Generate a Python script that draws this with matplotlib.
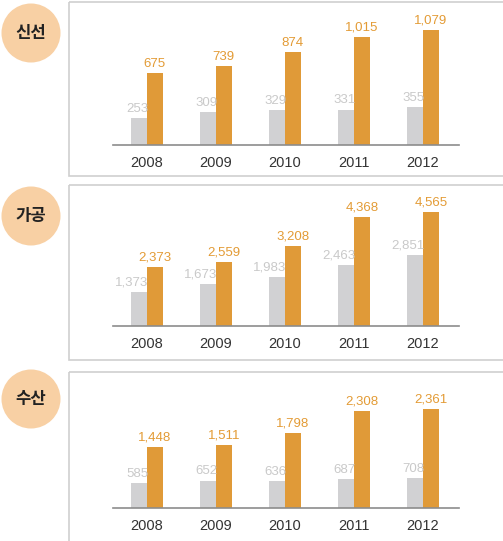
import numpy as np
import matplotlib
matplotlib.use('Agg')
import matplotlib.pyplot as plt
from matplotlib.patches import Rectangle, Circle

plt.rcParams['font.family'] = ['Liberation Sans', 'Noto Sans CJK KR', 'DejaVu Sans']

years = ['2008', '2009', '2010', '2011', '2012']
titles = ['신선', '가공', '수산']

fresh_gray = [253, 309, 329, 331, 355]
fresh_orange = [675, 739, 874, 1015, 1079]
proc_gray = [1373, 1673, 1983, 2463, 2851]
proc_orange = [2373, 2559, 3208, 4368, 4565]
sea_gray = [585, 652, 636, 687, 708]
sea_orange = [1448, 1511, 1798, 2308, 2361]

gray_vals = [fresh_gray, proc_gray, sea_gray]
orange_vals = [fresh_orange, proc_orange, sea_orange]
ytops = [1350, 5650, 3240]

W, H = 503, 541
fig = plt.figure(figsize=(W / 100, H / 100), dpi=100)

# background layer in pixel coords
bg = fig.add_axes([0, 0, 1, 1])
bg.set_xlim(0, W)
bg.set_ylim(H, 0)
bg.axis('off')

boxes = [(1.5, 176), (185, 360), (372, 550)]      # top, bottom of the framed boxes
circ_y = [33, 216, 399]
baselines = [145, 326, 508]

orange = '#E09A38'
gray = '#D1D1D3'
orange_txt = '#E39B35'
gray_txt = '#C9C9C9'

for k in range(3):
    top, bot = boxes[k]
    bg.add_patch(Rectangle((69, top), 500, bot - top, fill=False, ec='#CFCFCF', lw=1.2))
    bg.add_patch(Circle((31, circ_y[k]), 29.5, fc='#F8D0A4', ec='none'))
    bg.text(31, circ_y[k], titles[k], ha='center', va='center', fontsize=12,
            fontweight='bold', color='#222222', family=['Noto Sans CJK KR', 'DejaVu Sans'])

for k in range(3):
    base = baselines[k]
    top = boxes[k][0]
    ax = fig.add_axes([113 / W, (H - base) / H, (459 - 113) / W, (base - top) / H])
    ax.patch.set_alpha(0)
    x = np.arange(len(years))
    w = 0.225
    ax.bar(x - w, gray_vals[k], w, align='edge', color=gray)
    ax.bar(x, orange_vals[k], w, align='edge', color=orange)
    ax.set_xlim(-34 / 69, 4 + 36 / 69)
    ax.set_ylim(0, ytops[k])
    for s in ['top', 'left', 'right']:
        ax.spines[s].set_visible(False)
    ax.spines['bottom'].set_color('#8C8C8C')
    ax.spines['bottom'].set_linewidth(1.2)
    ax.set_yticks([])
    ax.set_xticks(x)
    ax.set_xticklabels(years, fontsize=10.5, color='#333333')
    ax.tick_params(axis='x', length=0, pad=8)
    for i in range(len(years)):
        ax.annotate(f'{gray_vals[k][i]:,}', (x[i] + 0.02, gray_vals[k][i]), xytext=(0, 2.5),
                    textcoords='offset points', ha='right', va='bottom',
                    fontsize=9.5, color=gray_txt)
        ax.annotate(f'{orange_vals[k][i]:,}', (x[i] + w / 2, orange_vals[k][i]), xytext=(0, 2.5),
                    textcoords='offset points', ha='center', va='bottom',
                    fontsize=9.5, color=orange_txt)

fig.savefig('out.png', dpi=100)
